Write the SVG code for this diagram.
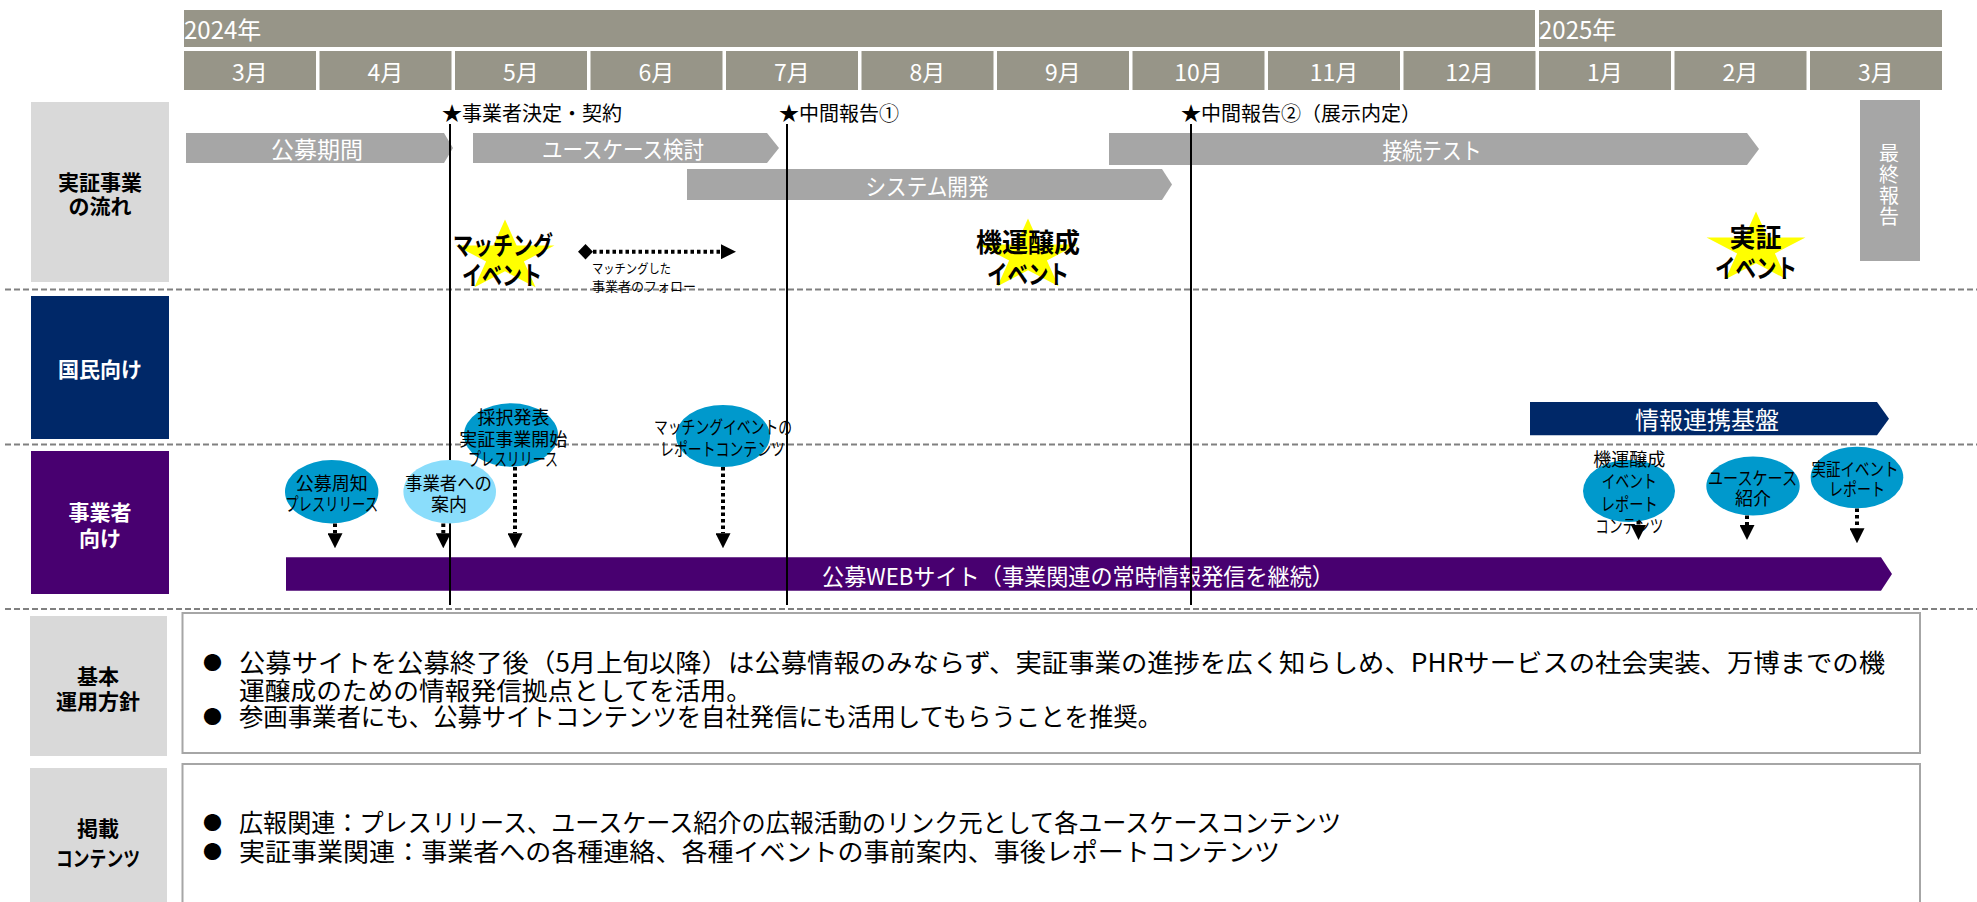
<svg xmlns="http://www.w3.org/2000/svg" width="1977" height="902" viewBox="0 0 1977 902">
<style>
text { font-family: "Noto Sans CJK JP", "Noto Sans", sans-serif; dominant-baseline: central; }
.hdr { fill: #979588; }
.mon { font-size: 23px; fill: #fff; text-anchor: middle; }
.yr { font-size: 24px; fill: #fff; }
.lane { font-size: 21px; font-weight: bold; text-anchor: middle; fill: #000; }
.lanew { font-size: 21px; font-weight: bold; text-anchor: middle; fill: #fff; }
.bar { fill: #A6A6A6; }
.bartx { font-size: 23px; fill: #fff; text-anchor: middle; }
.vt { font-size: 20px; fill: #fff; writing-mode: vertical-rl; letter-spacing: 1.3px; }
.ms { font-size: 20px; fill: #000; }
.vline { stroke: #000; stroke-width: 2; }
.sep { stroke: #808080; stroke-width: 2; stroke-dasharray: 6 3; }
.star { fill: #FFFF00; }
.stx { font-size: 26px; font-weight: bold; text-anchor: middle; fill: #000; }
.ell { fill: #0099CC; }
.ell2 { fill: #8ADDFB; }
.etx { font-size: 18px; text-anchor: middle; fill: #000; }
.small { font-size: 13px; fill: #000; }
.dot { stroke: #000; stroke-width: 4; stroke-dasharray: 3.5 3; fill: none; }
.box { fill: #fff; stroke: #A6A6A6; stroke-width: 2; }
.lbox { fill: #D9D9D9; }
.bt { font-size: 25px; fill: #000; }
.bul { font-size: 19px; fill: #000; }
</style>
<defs>
<marker id="ah" viewBox="0 0 10 10" refX="0" refY="5" markerUnits="userSpaceOnUse" markerWidth="15" markerHeight="15" orient="auto">
<path d="M0,0 L10,5 L0,10 Z" fill="#000"/>
</marker>
<polygon id="starShape" points="0,-37.5 11.67,-11.59 49.46,-11.59 18.89,4.43 30.57,30.34 0,14.33 -30.57,30.34 -18.89,4.43 -49.46,-11.59 -11.67,-11.59"/>
</defs>

<!-- header -->
<g id="header">
<rect class="hdr" x="184" y="10" width="1351" height="37"/>
<rect class="hdr" x="1539" y="10" width="403" height="37"/>
<text class="yr" x="184" y="28.5">2024年</text>
<text class="yr" x="1539" y="28.5">2025年</text>
<rect class="hdr" x="184" y="51" width="132" height="39"/>
<rect class="hdr" x="319.5" y="51" width="132" height="39"/>
<rect class="hdr" x="455" y="51" width="132" height="39"/>
<rect class="hdr" x="590.5" y="51" width="132" height="39"/>
<rect class="hdr" x="726" y="51" width="132" height="39"/>
<rect class="hdr" x="861.5" y="51" width="132" height="39"/>
<rect class="hdr" x="997" y="51" width="132" height="39"/>
<rect class="hdr" x="1132.5" y="51" width="132" height="39"/>
<rect class="hdr" x="1268" y="51" width="132" height="39"/>
<rect class="hdr" x="1403.5" y="51" width="132" height="39"/>
<rect class="hdr" x="1539" y="51" width="132" height="39"/>
<rect class="hdr" x="1674.5" y="51" width="132" height="39"/>
<rect class="hdr" x="1810" y="51" width="132" height="39"/>
<text class="mon" x="250" y="70.5">3月</text>
<text class="mon" x="385.5" y="70.5">4月</text>
<text class="mon" x="521" y="70.5">5月</text>
<text class="mon" x="656.5" y="70.5">6月</text>
<text class="mon" x="792" y="70.5">7月</text>
<text class="mon" x="927.5" y="70.5">8月</text>
<text class="mon" x="1063" y="70.5">9月</text>
<text class="mon" x="1198.5" y="70.5">10月</text>
<text class="mon" x="1334" y="70.5">11月</text>
<text class="mon" x="1469.5" y="70.5">12月</text>
<text class="mon" x="1605" y="70.5">1月</text>
<text class="mon" x="1740.5" y="70.5">2月</text>
<text class="mon" x="1876" y="70.5">3月</text>
</g>

<!-- lane labels -->
<g id="lane-flow">
<rect class="lbox" x="31" y="102" width="138" height="180"/>
<text class="lane"><tspan x="100" y="181">実証事業</tspan><tspan x="100" y="205">の流れ</tspan></text>
</g>
<g id="lane-public">
<rect x="31" y="296" width="138" height="143" fill="#002868"/>
<text class="lanew" x="100" y="368">国民向け</text>
</g>
<g id="lane-business">
<rect x="31" y="451" width="138" height="143" fill="#480070"/>
<text class="lanew"><tspan x="100" y="511">事業者</tspan><tspan x="100" y="537">向け</tspan></text>
</g>

<!-- separators -->
<g id="separators">
<line class="sep" x1="5" y1="289.5" x2="1977" y2="289.5"/>
<line class="sep" x1="5" y1="444.5" x2="1977" y2="444.5"/>
<line class="sep" x1="5" y1="609" x2="1977" y2="609"/>
</g>

<!-- process bars -->
<g id="bar-koubo">
<polygon class="bar" points="186,133 444,133 453,148 444,163 186,163"/>
<text class="bartx" x="317" y="148">公募期間</text>
</g>
<g id="bar-usecase">
<polygon class="bar" points="473,133 767,133 779,148 767,163 473,163"/>
<text class="bartx" x="623" y="148" textLength="162" lengthAdjust="spacingAndGlyphs">ユースケース検討</text>
</g>
<g id="bar-system">
<polygon class="bar" points="687,169 1162,169 1172,184.5 1162,200 687,200"/>
<text class="bartx" x="927" y="185" textLength="123" lengthAdjust="spacingAndGlyphs">システム開発</text>
</g>
<g id="bar-test">
<polygon class="bar" points="1109,133 1747,133 1759,149 1747,165 1109,165"/>
<text class="bartx" x="1432" y="148.5" textLength="99" lengthAdjust="spacingAndGlyphs">接続テスト</text>
</g>
<g id="final-report">
<rect class="bar" x="1860" y="100" width="60" height="161"/>
<text class="vt" x="1889" y="143">最終報告</text>
</g>
<g id="bar-platform">
<polygon points="1530,402 1877,402 1889,418.7 1877,435.3 1530,435.3" fill="#002868"/>
<text class="bartx" x="1707" y="418.7" style="font-size:24px">情報連携基盤</text>
</g>
<g id="bar-web">
<polygon points="286,557.3 1881,557.3 1892,574 1881,590.7 286,590.7" fill="#480070"/>
<text class="bartx" x="1078" y="574.5" textLength="512" lengthAdjust="spacingAndGlyphs">公募WEBサイト（事業関連の常時情報発信を継続）</text>
</g>

<!-- milestones -->
<g id="milestones">
<line class="vline" x1="450" y1="124" x2="450" y2="605"/>
<line class="vline" x1="787" y1="124" x2="787" y2="605"/>
<line class="vline" x1="1191" y1="124" x2="1191" y2="605"/>
<text class="ms" x="442" y="112">★事業者決定・契約</text>
<text class="ms" x="779" y="112">★中間報告①</text>
<text class="ms" x="1181" y="112">★中間報告②（展示内定）</text>
</g>

<!-- events -->
<g id="event-matching">
<use href="#starShape" class="star" transform="translate(505,257)"/>
<text class="stx"><tspan x="503" y="243.3" textLength="100" lengthAdjust="spacingAndGlyphs">マッチング</tspan><tspan x="502" y="273.3" textLength="80" lengthAdjust="spacingAndGlyphs">イベント</tspan></text>
</g>
<g id="event-kiun">
<use href="#starShape" class="star" transform="translate(1028,256)"/>
<text class="stx"><tspan x="1028" y="240">機運醸成</tspan><tspan x="1028" y="271.7" textLength="82" lengthAdjust="spacingAndGlyphs">イベント</tspan></text>
</g>
<g id="event-jissho">
<use href="#starShape" class="star" transform="translate(1756,249)"/>
<text class="stx"><tspan x="1755.5" y="235">実証</tspan><tspan x="1756" y="266" textLength="82" lengthAdjust="spacingAndGlyphs">イベント</tspan></text>
</g>
<g id="follow-label">
<text class="small"><tspan x="592" y="266.7" textLength="79" lengthAdjust="spacingAndGlyphs">マッチングした</tspan><tspan x="592" y="285">事業者のフォロー</tspan></text>
</g>

<!-- ellipses -->
<g id="n-koubo-shuchi">
<ellipse class="ell" cx="331.7" cy="491.7" rx="46.7" ry="31.7"/>
<text class="etx"><tspan x="331.7" y="481.7">公募周知</tspan><tspan x="331.7" y="503.3" textLength="93" lengthAdjust="spacingAndGlyphs">プレスリリース</tspan></text>
</g>
<g id="n-annai">
<ellipse class="ell2" cx="449.7" cy="491.7" rx="46.3" ry="31.7"/>
<text class="etx"><tspan x="448.5" y="481.7" textLength="87" lengthAdjust="spacingAndGlyphs">事業者への</tspan><tspan x="449" y="503.3">案内</tspan></text>
</g>
<g id="n-saitaku">
<ellipse class="ell" cx="511" cy="435" rx="47" ry="31.7"/>
<text class="etx"><tspan x="513.5" y="415.7">採択発表</tspan><tspan x="513.3" y="437.7">実証事業開始</tspan><tspan x="513" y="458.3" textLength="90" lengthAdjust="spacingAndGlyphs">プレスリリース</tspan></text>
</g>
<g id="n-matching-report">
<ellipse class="ell" cx="723" cy="436" rx="47" ry="31"/>
<text class="etx"><tspan x="723" y="425.7" textLength="138" lengthAdjust="spacingAndGlyphs">マッチングイベントの</tspan><tspan x="722.5" y="448.3" textLength="125" lengthAdjust="spacingAndGlyphs">レポートコンテンツ</tspan></text>
</g>
<g id="n-kiun-report">
<ellipse class="ell" cx="1629" cy="491" rx="46" ry="31"/>
<text class="etx"><tspan x="1629.3" y="458.3">機運醸成</tspan><tspan x="1629.3" y="480" textLength="55" lengthAdjust="spacingAndGlyphs">イベント</tspan><tspan x="1629.3" y="503.3" textLength="57" lengthAdjust="spacingAndGlyphs">レポート</tspan><tspan x="1629.3" y="525" textLength="68" lengthAdjust="spacingAndGlyphs">コンテンツ</tspan></text>
</g>
<g id="n-usecase">
<ellipse class="ell" cx="1753" cy="486" rx="46.7" ry="29.5"/>
<text class="etx"><tspan x="1752.5" y="476.7" textLength="89" lengthAdjust="spacingAndGlyphs">ユースケース</tspan><tspan x="1753" y="496.7">紹介</tspan></text>
</g>
<g id="n-jissho-report">
<ellipse class="ell" cx="1857" cy="477.5" rx="46.3" ry="30.8"/>
<text class="etx"><tspan x="1855" y="468.3" textLength="87" lengthAdjust="spacingAndGlyphs">実証イベント</tspan><tspan x="1857" y="488.3" textLength="56" lengthAdjust="spacingAndGlyphs">レポート</tspan></text>
</g>

<!-- connectors -->
<g id="connectors">
<polygon points="578,251.7 585.5,244 593,251.7 585.5,259.4" fill="#000"/>
<line class="dot" x1="593" y1="251.7" x2="721" y2="251.7" marker-end="url(#ah)"/>
<line class="dot" x1="335" y1="523.5" x2="335" y2="533.3" marker-end="url(#ah)"/>
<line class="dot" x1="443.3" y1="523.5" x2="443.3" y2="533.3" marker-end="url(#ah)"/>
<line class="dot" x1="515" y1="467" x2="515" y2="533.3" marker-end="url(#ah)"/>
<line class="dot" x1="723" y1="467" x2="723" y2="533.3" marker-end="url(#ah)"/>
<line class="dot" x1="1638.5" y1="521" x2="1638.5" y2="525" marker-end="url(#ah)"/>
<line class="dot" x1="1747" y1="515.5" x2="1747" y2="525" marker-end="url(#ah)"/>
<line class="dot" x1="1857" y1="508.5" x2="1857" y2="528.3" marker-end="url(#ah)"/>
</g>

<!-- policy -->
<g id="policy">
<rect class="lbox" x="30" y="616" width="137" height="140"/>
<text class="lane"><tspan x="98" y="675">基本</tspan><tspan x="98" y="700">運用方針</tspan></text>
<rect class="box" x="182.5" y="613" width="1737.5" height="140"/>
<text class="bul"><tspan x="203" y="661">●</tspan><tspan x="203" y="715">●</tspan></text>
<text class="bt"><tspan x="239" y="661" textLength="1646" lengthAdjust="spacingAndGlyphs">公募サイトを公募終了後（5月上旬以降）は公募情報のみならず、実証事業の進捗を広く知らしめ、PHRサービスの社会実装、万博までの機</tspan><tspan x="239" y="688.5" textLength="513" lengthAdjust="spacingAndGlyphs">運醸成のための情報発信拠点としてを活用。</tspan></text>
<text class="bt" x="239" y="715" textLength="923" lengthAdjust="spacingAndGlyphs">参画事業者にも、公募サイトコンテンツを自社発信にも活用してもらうことを推奨。</text>
</g>
<g id="contents">
<rect class="lbox" x="30" y="768" width="137" height="140"/>
<text class="lane"><tspan x="98" y="827">掲載</tspan><tspan x="98" y="857" textLength="84" lengthAdjust="spacingAndGlyphs">コンテンツ</tspan></text>
<rect class="box" x="182.5" y="764" width="1737.5" height="150"/>
<text class="bul"><tspan x="203" y="821">●</tspan><tspan x="203" y="850">●</tspan></text>
<text class="bt"><tspan x="239" y="821" textLength="1102" lengthAdjust="spacingAndGlyphs">広報関連：プレスリリース、ユースケース紹介の広報活動のリンク元として各ユースケースコンテンツ</tspan><tspan x="239" y="850" textLength="1041" lengthAdjust="spacingAndGlyphs">実証事業関連：事業者への各種連絡、各種イベントの事前案内、事後レポートコンテンツ</tspan></text>
</g>
</svg>
